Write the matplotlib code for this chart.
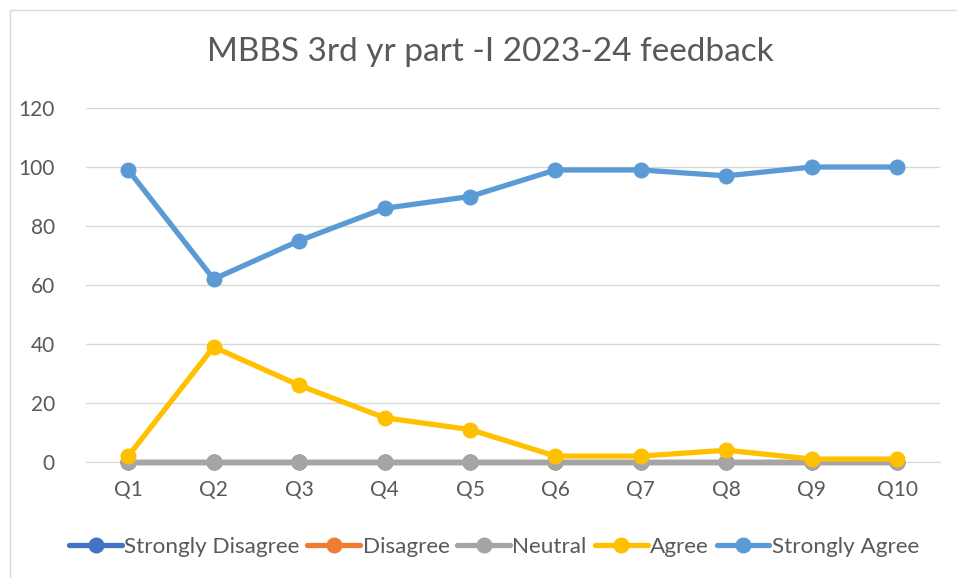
import matplotlib.pyplot as plt
from matplotlib.patches import Rectangle

questions = ["Q1", "Q2", "Q3", "Q4", "Q5", "Q6", "Q7", "Q8", "Q9", "Q10"]
strongly_disagree = [0, 0, 0, 0, 0, 0, 0, 0, 0, 0]
disagree = [0, 0, 0, 0, 0, 0, 0, 0, 0, 0]
neutral = [0, 0, 0, 0, 0, 0, 0, 0, 0, 0]
agree = [2, 39, 26, 15, 11, 2, 2, 4, 1, 1]
strongly_agree = [99, 62, 75, 86, 90, 99, 99, 97, 100, 100]

series = [
    ("Strongly Disagree", strongly_disagree, "#4472c4"),
    ("Disagree", disagree, "#ed7d31"),
    ("Neutral", neutral, "#a5a5a5"),
    ("Agree", agree, "#ffc000"),
    ("Strongly Agree", strongly_agree, "#5b9bd5"),
]

plt.rcParams['font.family'] = ['Lato', 'DejaVu Sans']
txt = "#595959"

fig = plt.figure(figsize=(9.57, 5.78), dpi=100)
ax = fig.add_axes([85.5 / 957, 1 - 462 / 578, (940 - 85.5) / 957, (462 - 108) / 578])

x = range(len(questions))
for name, vals, col in series:
    ax.plot(x, vals, color=col, lw=3.8, marker="o", markersize=10.5,
            label=name, solid_capstyle="round", clip_on=False, zorder=3)

ax.set_xlim(-0.5, len(questions) - 0.5)
ax.set_ylim(0, 120)
ax.set_yticks(range(0, 121, 20))
ax.set_xticks(list(x))
ax.set_xticklabels(questions)
ax.tick_params(length=0, labelsize=15, colors=txt)
ax.tick_params(axis="x", pad=13)
ax.tick_params(axis="y", pad=22)
ax.grid(axis="y", color="#d9d9d9", lw=1)
ax.set_axisbelow(True)
for s in ["top", "right", "left"]:
    ax.spines[s].set_visible(False)
ax.spines["bottom"].set_color("#d9d9d9")
ax.spines["bottom"].set_zorder(1)

fig.suptitle("MBBS 3rd yr part -I 2023-24 feedback", x=490.5 / 957, y=1 - 52 / 578,
             va="center", fontsize=24, color=txt)

leg = fig.legend(loc="center", bbox_to_anchor=(494 / 957, 1 - 547 / 578), ncol=5,
                 frameon=False, fontsize=16.2, handlelength=2.35,
                 handletextpad=0.1, columnspacing=0.35, labelcolor=txt)

fig.patches.append(Rectangle((10 / 957, -0.1), 1.2, 1 - 10 / 578 + 0.1,
                             transform=fig.transFigure, fill=False,
                             edgecolor="#d9d9d9", lw=1))

fig.savefig("out.png", dpi=100)
